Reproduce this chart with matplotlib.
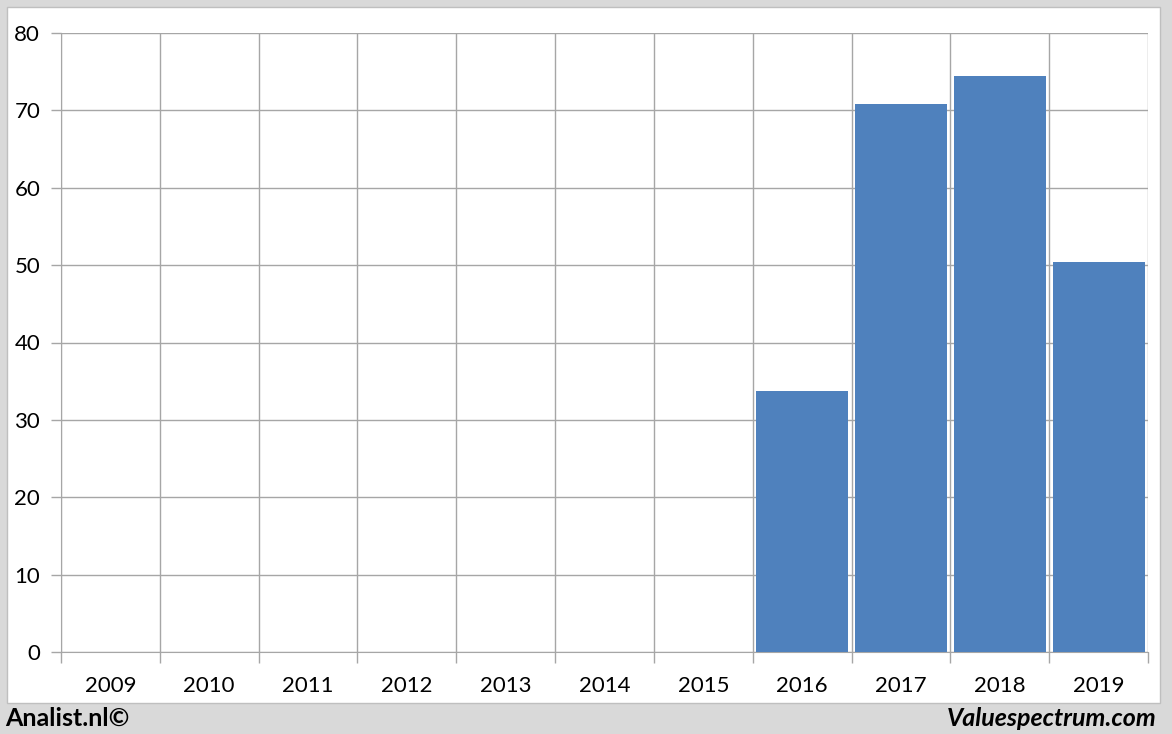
import matplotlib
matplotlib.use("Agg")
import matplotlib.pyplot as plt
from matplotlib.patches import Rectangle
from matplotlib.ticker import FixedLocator

years = ["2009", "2010", "2011", "2012", "2013", "2014", "2015", "2016", "2017", "2018", "2019"]
values = [0, 0, 0, 0, 0, 0, 0, 33.7, 70.8, 74.4, 50.4]
yticks = [0, 10, 20, 30, 40, 50, 60, 70, 80]

W, H = 1172, 734
fig = plt.figure(figsize=(W / 100, H / 100), dpi=100)
fig.patch.set_facecolor("#d9d9d9")
fig.patches.append(Rectangle((7 / W, 1 - 703 / H), (1160 - 7) / W, (703 - 7) / H,
                             transform=fig.transFigure, facecolor="white",
                             edgecolor="#bfbfbf", linewidth=1, zorder=-5))

ax = fig.add_axes([61 / W, 1 - 652 / H, (1148 - 61) / W, (652 - 33) / H])
ax.set_zorder(1)
ax.set_facecolor("white")
x = list(range(len(years)))
ax.bar(x, values, width=0.93, color="#4f81bd", zorder=3)
ax.set_xlim(-0.5, len(years) - 0.5)
ax.set_ylim(0, 80)
ax.set_yticks(yticks)
ax.set_xticks(x)
ax.set_xticklabels(years)
ax.xaxis.set_minor_locator(FixedLocator([i - 0.5 for i in range(len(years) + 1)]))

gc = "#a6a6a6"
ax.grid(axis="y", which="major", color=gc, linewidth=1, zorder=1)
ax.grid(axis="x", which="minor", color=gc, linewidth=1, zorder=1)
ax.set_axisbelow(True)
ax.tick_params(axis="x", which="major", length=0, pad=17)
ax.tick_params(axis="x", which="minor", length=8, color=gc, width=1)
ax.tick_params(axis="y", length=7, color=gc, width=1, pad=8)
for s in ax.spines.values():
    s.set_visible(False)
ax.spines["left"].set_visible(True)
ax.spines["left"].set_color(gc)
ax.spines["bottom"].set_visible(True)
ax.spines["bottom"].set_color(gc)

for lab in ax.get_xticklabels() + ax.get_yticklabels():
    lab.set_fontfamily("Lato")
    lab.set_fontsize(16)
    lab.set_color("black")

fig.text(5 / W, 1 - 718 / H, "Analist.nl©", fontsize=18, fontweight="bold",
         family="Lato", ha="left", va="center")
fig.text(1157 / W, 1 - 718 / H, "Valuespectrum.com", fontsize=18, fontweight="bold",
         fontstyle="italic", family="Lato", ha="right", va="center")

fig.savefig("out.png", dpi=100)
